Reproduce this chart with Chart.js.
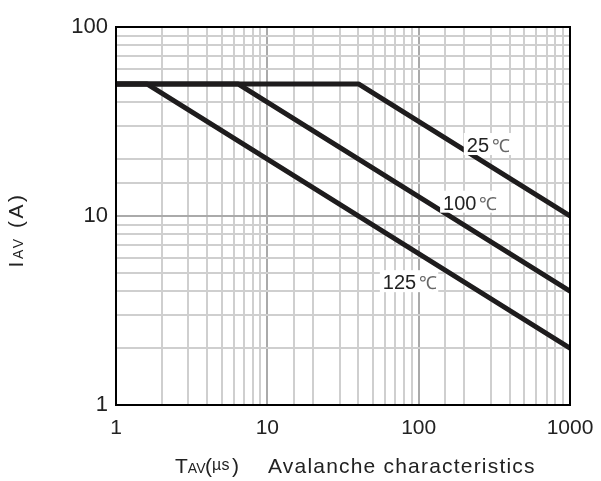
<!DOCTYPE html>
<html>
<head>
<meta charset="utf-8">
<script src="https://cdn.jsdelivr.net/npm/chart.js@4/dist/chart.umd.min.js"></script>
<style>
  html, body { margin: 0; padding: 0; background: #fff; }
</style>
</head>
<body>
<canvas id="c" width="601" height="481"></canvas>
<script>
// Avalanche current vs. avalanche time, per junction temperature
const tav25 = [1, 40, 1000];
const iav25 = [50, 50, 10];
const tav100 = [1, 6.4, 1000];
const iav100 = [50, 50, 4];
const tav125 = [1, 1.6, 1000];
const iav125 = [50, 50, 2];
const curveNames = ['25℃', '100℃', '125℃'];
const xTickLabels = [1, 10, 100, 1000];
const yTickLabels = [1, 10, 100];

const FONT = '"Liberation Sans", Arial, sans-serif';
const INK = '#1e1c1d';

const toPoints = (xs, ys) => xs.map((x, i) => ({ x, y: ys[i] }));
const isDecade = v => Math.abs(Math.log10(v) - Math.round(Math.log10(v))) < 1e-9;

const lineStyle = {
  borderColor: INK,
  borderWidth: 5,
  pointRadius: 0,
  borderCapStyle: 'round',
  borderJoinStyle: 'round',
  tension: 0,
  fill: false
};

// Curve labels, anchored at [x, y] data coordinates (text baseline-left)
const labelAnchors = [
  { text: curveNames[0], x: 208, y: 21.8 },
  { text: curveNames[1], x: 145, y: 10.8 },
  { text: curveNames[2], x: 58, y: 4.1 }
];

// draw a run of [text, size, dy] pieces left to right, returns total width
function drawRun(ctx, parts, x, y, spacing, measureOnly) {
  let w = 0;
  parts.forEach(p => {
    ctx.font = p[1] + 'px ' + FONT;
    ctx.letterSpacing = spacing + 'px';
    if (!measureOnly) ctx.fillText(p[0], x + w, y + (p[2] || 0));
    w += ctx.measureText(p[0]).width;
  });
  ctx.letterSpacing = '0px';
  return w;
}

const frameAndText = {
  id: 'frameAndText',
  afterDatasetsDraw(chart) {
    const { ctx, chartArea: a, scales } = chart;
    ctx.save();
    ctx.strokeStyle = '#000';
    ctx.lineWidth = 2;
    ctx.strokeRect(a.left, a.top, a.right - a.left, a.bottom - a.top);

    // curve labels on white boxes
    ctx.textBaseline = 'alphabetic';
    labelAnchors.forEach(l => {
      const px = scales.x.getPixelForValue(l.x);
      const py = scales.y.getPixelForValue(l.y);
      const num = l.text.replace('℃', '');
      ctx.font = '20px ' + FONT;
      const wNum = ctx.measureText(num).width;
      ctx.font = '18px ' + FONT;
      const wDeg = ctx.measureText('℃').width;
      ctx.fillStyle = '#fff';
      ctx.fillRect(px - 3, py - 19, wNum + wDeg + 7, 22);
      ctx.fillStyle = '#222';
      ctx.font = '20px ' + FONT;
      ctx.fillText(num, px, py);
      ctx.fillStyle = '#666';
      ctx.font = '18px ' + FONT;
      ctx.fillText('℃', px + wNum + 3, py);
    });
    ctx.restore();
  },
  afterDraw(chart) {
    const { ctx } = chart;
    ctx.save();
    ctx.fillStyle = '#222';
    ctx.textBaseline = 'alphabetic';

    // x-axis title with small letters
    drawRun(ctx, [['T', 21], ['AV', 14]], 175, 473, 0);
    drawRun(ctx, [['(', 21]], 205, 473, 0);
    drawRun(ctx, [['µs', 16]], 212, 470, 0.3);
    drawRun(ctx, [[')', 21]], 232, 473, 0);
    drawRun(ctx, [['Avalanche characteristics', 21]], 268, 473, 1.2);

    // y-axis title, rotated
    ctx.translate(23, 230);
    ctx.rotate(-Math.PI / 2);
    const yParts = [['I', 21], ['AV', 14], [' (A)', 21]];
    const total = drawRun(ctx, yParts, 0, 0, 2.5, true);
    drawRun(ctx, yParts, -total / 2, 0, 2.5);
    ctx.restore();
  }
};

const gridColor = ctx => (ctx.tick && isDecade(ctx.tick.value)) ? '#aaaaaa' : '#cfcfcf';

new Chart(document.getElementById('c'), {
  type: 'line',
  data: {
    datasets: [
      { label: curveNames[0], data: toPoints(tav25, iav25), ...lineStyle },
      { label: curveNames[1], data: toPoints(tav100, iav100), ...lineStyle },
      { label: curveNames[2], data: toPoints(tav125, iav125), ...lineStyle }
    ]
  },
  options: {
    responsive: false,
    devicePixelRatio: 1,
    animation: false,
    layout: { padding: { left: 0, right: 31, top: 27, bottom: 0 } },
    plugins: { legend: { display: false }, tooltip: { enabled: false } },
    scales: {
      x: {
        type: 'logarithmic',
        min: 1, max: 1000,
        afterFit: s => { s.height = 76; s.paddingRight = 0; s.paddingLeft = 0; },
        border: { display: false },
        grid: { color: gridColor, lineWidth: 2, drawTicks: false },
        ticks: {
          autoSkip: false,
          maxRotation: 0,
          padding: 11,
          color: '#222',
          font: { family: FONT, size: 21 },
          callback: v => xTickLabels.includes(v) ? String(v) : ''
        }
      },
      y: {
        type: 'logarithmic',
        min: 1, max: 100,
        afterFit: s => { s.width = 116; s.paddingTop = 0; s.paddingBottom = 0; },
        border: { display: false },
        grid: { color: gridColor, lineWidth: 2, drawTicks: false },
        ticks: {
          autoSkip: false,
          padding: 8,
          color: '#222',
          font: { family: FONT, size: 22 },
          callback: v => yTickLabels.includes(v) ? String(v) : ''
        }
      }
    }
  },
  plugins: [frameAndText]
});
</script>
</body>
</html>
